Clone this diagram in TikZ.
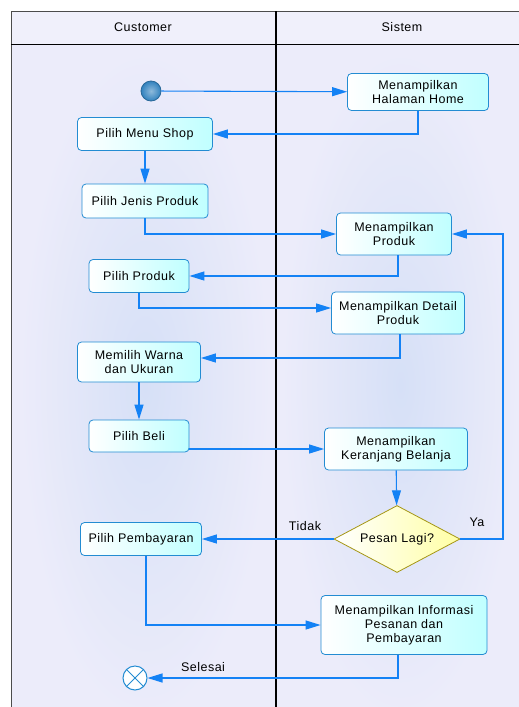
\documentclass[tikz,border=0pt]{standalone}
\usepackage{fontspec}
\setmainfont{Liberation Sans}[LetterSpace=4]
\usetikzlibrary{arrows.meta,shapes.geometric}
\definecolor{lanebg}{RGB}{236,236,250}
\definecolor{laneglow}{RGB}{214,224,247}
\definecolor{headbg}{RGB}{240,240,251}
\definecolor{flowblue}{RGB}{20,130,245}
\definecolor{actborder}{RGB}{35,140,210}
\definecolor{actfill}{RGB}{192,255,255}
\definecolor{decborder}{RGB}{165,150,20}
\definecolor{decfill}{RGB}{255,255,165}
\definecolor{startblue}{RGB}{50,130,190}
\begin{document}
\begin{tikzpicture}[x=1pt,y=-1pt,
  font=\fontsize{12.5}{14}\selectfont,
  act/.style={draw=actborder, line width=0.8pt, rounded corners=4pt,
    left color=white, right color=actfill, align=center, inner sep=2pt},
  flow/.style={draw=flowblue, line width=1.1pt, -{Triangle[length=15pt,width=9pt]}}]
\useasboundingbox (0,0) rectangle (519,707);
\clip (0,0) rectangle (519,707);
% lanes
\fill[lanebg] (11,11) rectangle (540,720);
\shade[inner color=laneglow, outer color=lanebg] (20,50) rectangle (270,720);
\shade[inner color=laneglow, outer color=lanebg] (282,50) rectangle (519,720);
\fill[headbg] (11,11) rectangle (540,44);
\draw[black!70] (11,720) -- (11,11) -- (540,11);
\draw (11,44) -- (540,44);
\draw[line width=1.2pt] (276,11) -- (276,720);
\node (cust) at (143,27) {Customer};
\node (sis) at (402,27) {Sistem};
% nodes
\node[circle, inner color=startblue!55!white, outer color=startblue, draw=startblue!80!black, line width=0.8pt, minimum size=20pt] (start) at (151,91) {};
\node[act, minimum width=141pt, minimum height=37pt] (home) at (418,92) {Menampilkan\\Halaman Home};
\node[act, minimum width=135pt, minimum height=33pt] (menu) at (145,134) {Pilih Menu Shop};
\node[act, minimum width=126pt, minimum height=34pt] (jenis) at (145,201) {Pilih Jenis Produk};
\node[act, minimum width=115pt, minimum height=42pt] (produk) at (394,234) {Menampilkan\\Produk};
\node[act, minimum width=100pt, minimum height=33pt] (pilihproduk) at (139,276) {Pilih Produk};
\node[act, minimum width=133pt, minimum height=42pt] (detail) at (398,313) {Menampilkan Detail\\Produk};
\node[act, minimum width=123pt, minimum height=40pt] (warna) at (139,362) {Memilih Warna\\dan Ukuran};
\node[act, minimum width=100pt, minimum height=32pt] (beli) at (139,436) {Pilih Beli};
\node[act, minimum width=143pt, minimum height=42pt] (keranjang) at (396,449) {Menampilkan\\Keranjang Belanja};
\node[diamond, aspect=2, draw=decborder, line width=0.8pt, left color=white, right color=decfill,
  minimum width=126pt, minimum height=67pt, inner sep=0pt] (pesan) at (397,539) {Pesan Lagi?};
\node[act, minimum width=121pt, minimum height=33pt] (bayar) at (141,539) {Pilih Pembayaran};
\node[act, minimum width=166pt, minimum height=59pt] (info) at (404,625) {Menampilkan Informasi\\Pesanan dan\\Pembayaran};
\node[circle, draw=actborder, line width=1pt, fill=white, minimum size=24pt] (end) at (135,678) {};
\draw[actborder, line width=1pt] (end.45) -- (end.225) (end.135) -- (end.-45);
\coordinate (ya) at (503,539);
% flows
\draw[flow] (start) -- (home);
\draw[flow] (home.south) |- (menu);
\draw[flow] (menu) -- (jenis);
\draw[flow] (jenis.south) |- (produk);
\draw[flow] ([xshift=4pt]produk.south) |- (pilihproduk);
\draw[flow] (pilihproduk.south) |- ([yshift=5pt]detail.west);
\draw[flow] ([xshift=2pt]detail.south) |- ([yshift=4pt]warna.east);
\draw[flow] (warna) -- (beli);
\draw[flow] (beli.east |- keranjang) -- (keranjang);
\draw[flow] (keranjang) -- (pesan);
\draw[flow] (pesan.east) -- (ya) |- (produk);
\draw[flow] (pesan) -- (bayar);
\draw[flow] ([xshift=5pt]bayar.south) |- (info);
\draw[flow] ([xshift=-6pt]info.south) |- (end);
% labels
\node (ya label) at (477,522) {Ya};
\node (tidak label) at (305,526) {Tidak};
\node (selesai label) at (203,667) {Selesai};
\end{tikzpicture}
\end{document}
